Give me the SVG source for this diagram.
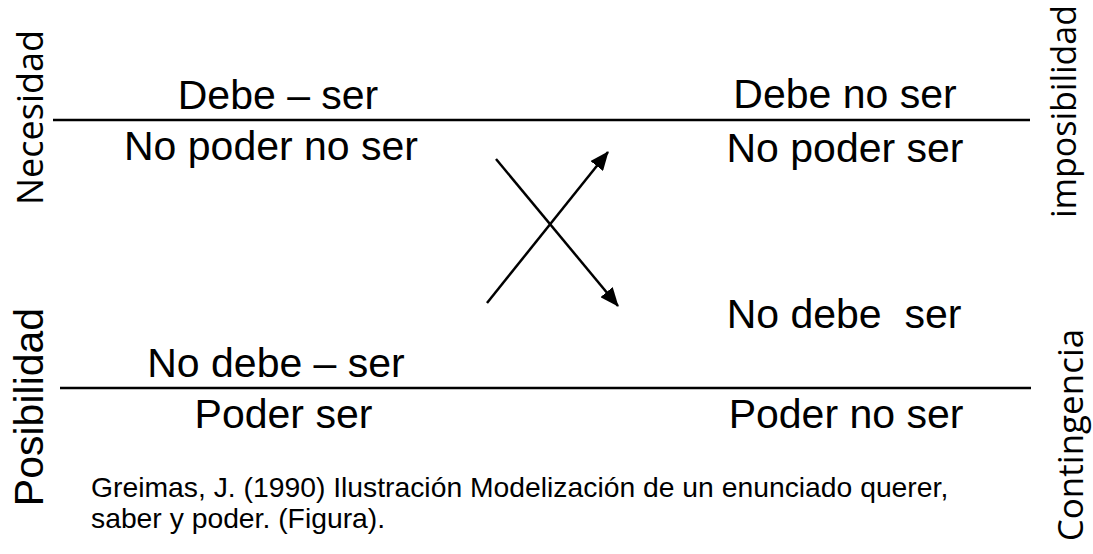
<svg xmlns="http://www.w3.org/2000/svg" width="1093" height="554" viewBox="0 0 1093 554">
<style>
.t{font-family:"Liberation Sans",Arial,sans-serif;font-size:41px;fill:#000;text-anchor:middle}
.side{font-family:"Open Sans","Noto Sans",sans-serif;fill:#000;text-anchor:middle}
.cap{font-family:"Liberation Sans",Arial,sans-serif;font-size:28.3px;fill:#000}
.rule{stroke:#000;stroke-width:2.5}
.arr{stroke:#000;stroke-width:2.5;fill:none;marker-end:url(#ah)}
</style>
<defs>
<marker id="ah" markerUnits="userSpaceOnUse" markerWidth="19" markerHeight="16" refX="18" refY="8" orient="auto">
<path d="M0,0 L19,8 L0,16 z" fill="#000"/>
</marker>
</defs>
<rect width="1093" height="554" fill="#fff"/>
<g id="rules">
<line class="rule" x1="53" y1="120" x2="1030" y2="120"/>
<line class="rule" x1="60" y1="388" x2="1031" y2="388"/>
</g>
<g id="connectors">
<line class="arr" x1="496" y1="159" x2="618" y2="306"/>
<line class="arr" x1="487" y1="303" x2="608" y2="152"/>
</g>
<g id="side-necesidad"><text class="side" font-size="37" transform="translate(43,117.5) rotate(-90)" textLength="175" lengthAdjust="spacingAndGlyphs">Necesidad</text></g>
<g id="side-imposibilidad"><text class="side" font-size="34" transform="translate(1076,111.5) rotate(-90)">imposibilidad</text></g>
<g id="side-posibilidad"><text class="t" font-size="38" transform="translate(43,407) rotate(-90)">Posibilidad</text></g>
<g id="side-contingencia"><text class="side" font-size="35" transform="translate(1083,435) rotate(-90)">Contingencia</text></g>
<g id="n-debe-ser"><text class="t" x="278" y="109">Debe – ser</text></g>
<g id="n-no-poder-no-ser"><text class="t" x="271" y="160">No poder no ser</text></g>
<g id="n-debe-no-ser"><text class="t" x="845" y="108">Debe no ser</text></g>
<g id="n-no-poder-ser"><text class="t" x="845" y="162">No poder ser</text></g>
<g id="n-no-debe-ser-r"><text class="t" x="844" y="328" xml:space="preserve" style="white-space:pre">No debe  ser</text></g>
<g id="n-poder-no-ser"><text class="t" x="846" y="428">Poder no ser</text></g>
<g id="n-no-debe-ser-l"><text class="t" x="276" y="377">No debe – ser</text></g>
<g id="n-poder-ser"><text class="t" x="283.5" y="428">Poder ser</text></g>
<g id="caption">
<text class="cap" x="91" y="497">Greimas, J. (1990) Ilustración Modelización de un enunciado querer,</text>
<text class="cap" x="91" y="528">saber y poder. (Figura).</text>
</g>
</svg>
